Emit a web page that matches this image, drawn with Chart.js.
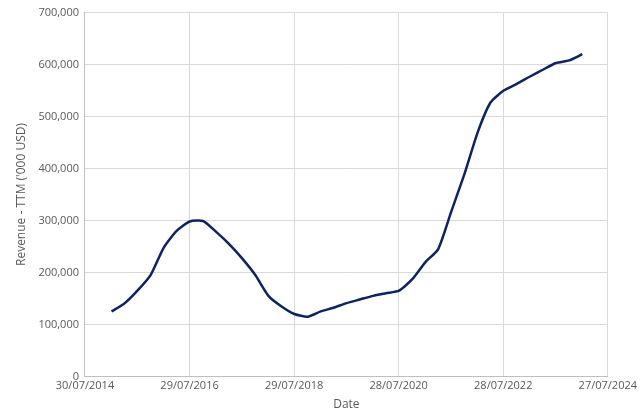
<!DOCTYPE html>
<html>
<head>
<meta charset="utf-8">
<script src="https://cdn.jsdelivr.net/npm/chart.js@4"></script>
<style>
  html, body { margin: 0; padding: 0; background: #fff; }
  #wrap { width: 640px; height: 418px; }
</style>
</head>
<body>
<div id="wrap"><canvas id="chart"></canvas></div>
<script>
// quarterly points
const dates = [
  "2015-01-31", "2015-04-30", "2015-07-31", "2015-10-31",
  "2016-01-31", "2016-04-30", "2016-07-31", "2016-10-31",
  "2017-01-31", "2017-04-30", "2017-07-31", "2017-10-31",
  "2018-01-31", "2018-04-30", "2018-07-31", "2018-10-31",
  "2019-01-31", "2019-04-30", "2019-07-31", "2019-10-31",
  "2020-01-31", "2020-04-30", "2020-07-31", "2020-10-31",
  "2021-01-31", "2021-04-30", "2021-07-31", "2021-10-31",
  "2022-01-31", "2022-04-30", "2022-07-31", "2022-10-31",
  "2023-01-31", "2023-04-30", "2023-07-31", "2023-10-31",
  "2024-01-31"
];
const revenue = [
  125000, 140000, 165000, 195000,
  248000, 280000, 298000, 299000,
  278000, 255000, 227000, 195000,
  155000, 135000, 120000, 115000,
  125000, 132000, 141000, 148000,
  155000, 160000, 165000, 187000,
  220000, 245000, 318000, 390000,
  470000, 527000, 550000, 563000,
  577000, 590000, 603000, 608000,
  620000
];
const xTicks = ["2014-07-30", "2016-07-29", "2018-07-29", "2020-07-28", "2022-07-28", "2024-07-27"];

const toMs = s => Date.parse(s + "T00:00:00Z");
const fmtDate = ms => {
  const d = new Date(ms);
  const p = n => String(n).padStart(2, "0");
  return p(d.getUTCDate()) + "/" + p(d.getUTCMonth() + 1) + "/" + d.getUTCFullYear();
};

const font = { family: "Open Sans", size: 11 };
const grey = "#595959";

new Chart(document.getElementById("chart"), {
  type: "line",
  data: {
    datasets: [{
      data: dates.map((d, i) => ({ x: toMs(d), y: revenue[i] })),
      borderColor: "#0c2461",
      borderWidth: 2.5,
      pointRadius: 0,
      tension: 0.2,
      fill: false
    }]
  },
  options: {
    responsive: true,
    maintainAspectRatio: false,
    animation: false,
    layout: { padding: { left: 10, right: 12, top: 8, bottom: 4 } },
    plugins: { legend: { display: false }, tooltip: { enabled: false } },
    scales: {
      x: {
        type: "linear",
        min: toMs(xTicks[0]),
        max: toMs(xTicks[xTicks.length - 1]),
        afterBuildTicks: axis => { axis.ticks = xTicks.map(t => ({ value: toMs(t) })); },
        ticks: { callback: v => fmtDate(v), color: grey, font, maxRotation: 0 },
        grid: { color: "#d9d9d9", drawTicks: false },
        border: { color: "#bfbfbf" },
        title: { display: true, text: "Date", color: grey, font: { family: "Open Sans", size: 12 }, padding: 2 }
      },
      y: {
        min: 0,
        max: 700000,
        ticks: { stepSize: 100000, color: grey, font, callback: v => v.toLocaleString("en-US"), padding: 6 },
        grid: { color: "#d9d9d9", drawTicks: false },
        border: { color: "#bfbfbf" },
        title: { display: true, text: "Revenue - TTM ('000 USD)", color: grey, font: { family: "Open Sans", size: 12 } }
      }
    }
  }
});
</script>
</body>
</html>
